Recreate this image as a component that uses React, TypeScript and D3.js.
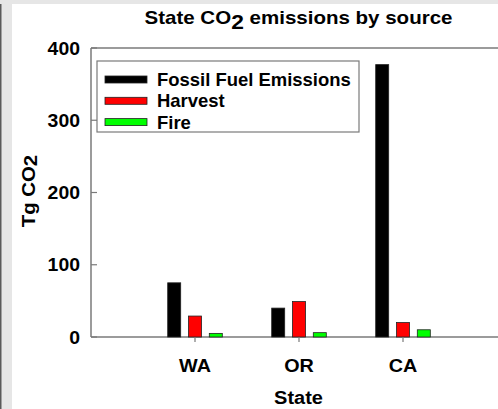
import React from "react";
import * as d3 from "d3";

// Emissions by state, in Tg CO2
const states = ["WA", "OR", "CA"];
const fossilFuel = [75, 40, 377];
const harvest = [29, 49, 20];
const fire = [5, 6, 10];
const seriesNames = ["Fossil Fuel Emissions", "Harvest", "Fire"];
const seriesColors = ["#000000", "#ff0000", "#00ff00"];
const yTicks = [0, 100, 200, 300, 400];

const W = 498;
const H = 409;
const FONT = "'Liberation Sans', Arial, Helvetica, sans-serif";

// Text drawn with a slight horizontal widening, like the wide bold face of the original plot
function WideText(props: {
  x: number;
  y: number;
  sx?: number;
  rotate?: number;
  anchor?: "start" | "middle" | "end";
  size: number;
  children: React.ReactNode;
}) {
  const { x, y, sx = 1.08, rotate = 0, anchor = "start", size, children } = props;
  return (
    <g transform={`translate(${x},${y}) rotate(${rotate}) scale(${sx},1)`}>
      <text x={0} y={0} textAnchor={anchor} fontSize={size} fill="#000">
        {children}
      </text>
    </g>
  );
}

export default function App() {
  const x = d3.scaleLinear().domain([0, 4]).range([91, 507]);
  const y = d3.scaleLinear().domain([0, 400]).range([337, 48]);
  const series = [fossilFuel, harvest, fire];
  const offsets = [-0.2, 0, 0.2];
  const barW = x(0.125) - x(0);
  const axisColor = "#7a7a7a";

  return (
    <svg
      width={W}
      height={H}
      style={{ position: "absolute", left: 0, top: 0, background: "#fff" }}
      fontFamily={FONT}
      fontWeight="bold"
    >
      {/* page frame */}
      <rect x={0} y={0} width={W} height={4} fill="#e6e6e6" />
      <rect x={0} y={0} width={12} height={H} fill="#e6e6e6" />
      <rect x={0} y={4} width={1.5} height={H - 4} fill="#5a5a5a" />

      {/* title */}
      <WideText x={298.5} y={24} sx={1.14} anchor="middle" size={18}>
        State CO<tspan dy={5} fontSize={20}>2</tspan>
        <tspan dy={-5}> emissions by source</tspan>
      </WideText>

      {/* plot frame */}
      <line x1={x(0)} x2={x(4)} y1={y(400)} y2={y(400)} stroke={axisColor} strokeWidth={1.5} />
      <line x1={x(0)} x2={x(4)} y1={y(0)} y2={y(0)} stroke={axisColor} strokeWidth={1.5} />
      <line x1={x(0)} x2={x(0)} y1={y(0)} y2={y(400)} stroke={axisColor} strokeWidth={1.5} />

      {/* y ticks */}
      {yTicks.map((t) => (
        <g key={t}>
          <line x1={x(0)} x2={x(0) + 6} y1={y(t)} y2={y(t)} stroke={axisColor} strokeWidth={1.2} />
          <WideText x={80} y={y(t) + 6.5} sx={1.05} anchor="end" size={18.5}>
            {t}
          </WideText>
        </g>
      ))}

      {/* bars */}
      {series.map((vals, si) =>
        vals.map((v, i) => (
          <rect
            key={`${si}-${i}`}
            x={x(i + 1 + offsets[si]) - barW / 2}
            y={y(v)}
            width={barW}
            height={y(0) - y(v)}
            fill={seriesColors[si]}
            stroke="#222"
            strokeWidth={0.8}
          />
        ))
      )}

      {/* x ticks and labels */}
      {states.map((s, i) => (
        <g key={s}>
          <line x1={x(i + 1)} x2={x(i + 1)} y1={y(0)} y2={y(0) + 5} stroke={axisColor} strokeWidth={1.2} />
          <WideText x={x(i + 1)} y={372} sx={1.07} anchor="middle" size={18.5}>
            {s}
          </WideText>
        </g>
      ))}

      {/* axis titles */}
      <WideText x={298.5} y={404} sx={1.08} anchor="middle" size={18.5}>
        State
      </WideText>
      <WideText x={35} y={191} sx={1.1} rotate={-90} anchor="middle" size={18.5}>
        Tg CO<tspan dy={2}>2</tspan>
      </WideText>

      {/* legend */}
      <rect x={97} y={61} width={262} height={71} fill="#fff" stroke={axisColor} strokeWidth={1.2} />
      {seriesNames.map((name, i) => {
        const cy = 79.5 + i * 21.3;
        return (
          <g key={name}>
            <rect x={105} y={cy - 3.5} width={42} height={7} fill={seriesColors[i]} stroke="#222" strokeWidth={0.8} />
            <WideText x={157} y={cy + 6.5} sx={1.055} size={17.5}>
              {name}
            </WideText>
          </g>
        );
      })}
    </svg>
  );
}
